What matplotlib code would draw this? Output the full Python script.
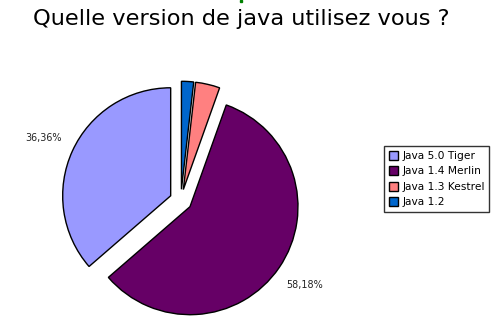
import matplotlib.pyplot as plt
from matplotlib.patches import Rectangle

# Survey answers (counts) (36,36% / 58,18% of 55)
versions = ["Java 5.0 Tiger", "Java 1.4 Merlin", "Java 1.3 Kestrel", "Java 1.2"]
counts = [20, 32, 2, 1]
colors = ["#9999ff", "#660066", "#ff8080", "#0066cc"]
title = "Quelle version de java utilisez vous ?"

total = sum(counts)
pct = [100.0 * c / total for c in counts]
# only the two big slices carry a label in the original
labels = [f"{p:.2f}%".replace(".", ",") if p > 10 else "" for p in pct]

W, H = 495, 319
fig = plt.figure(figsize=(W / 100, H / 100), dpi=100)

# pie centre ~ (181, 200) px from top-left, radius ~108 px
cx, cy, R = 180.8, 200.4, 108.0
box = 260.0
ax = fig.add_axes([(cx - box / 2) / W, (H - cy - box / 2) / H, box / W, box / H])
lim = box / (2 * R)

wedges, texts = ax.pie(
    counts,
    labels=labels,
    colors=colors,
    startangle=90,
    counterclock=True,
    explode=[0.103] * len(counts),
    labeldistance=1.29,
    wedgeprops=dict(edgecolor="black", linewidth=1.0),
    textprops=dict(fontsize=6.9, color="#222222"),
)
for t in texts:
    t.set_ha("center")
    t.set_va("center")
ax.set_xlim(-lim, lim)
ax.set_ylim(-lim, lim)
ax.set_aspect("equal")
ax.axis("off")

fig.text(241.5 / W, 1 - 19 / H, title, ha="center", va="center", fontsize=16.2)

leg = fig.legend(
    wedges,
    versions,
    loc="upper left",
    bbox_to_anchor=(384 / W, 1 - 146 / H),
    fontsize=7.7,
    frameon=True,
    fancybox=False,
    handlelength=0.9,
    handleheight=0.9,
    handletextpad=0.35,
    labelspacing=0.5,
    borderpad=0.45,
    borderaxespad=0,
)
leg.get_frame().set_edgecolor("black")
leg.get_frame().set_linewidth(1.0)

# small green artifact at the top of the original image
fig.patches.append(Rectangle((239.5 / W, 1 - 1.5 / H), 2 / W, 1.5 / H,
                             transform=fig.transFigure, color="#008000"))

fig.savefig("out.png", dpi=100)
